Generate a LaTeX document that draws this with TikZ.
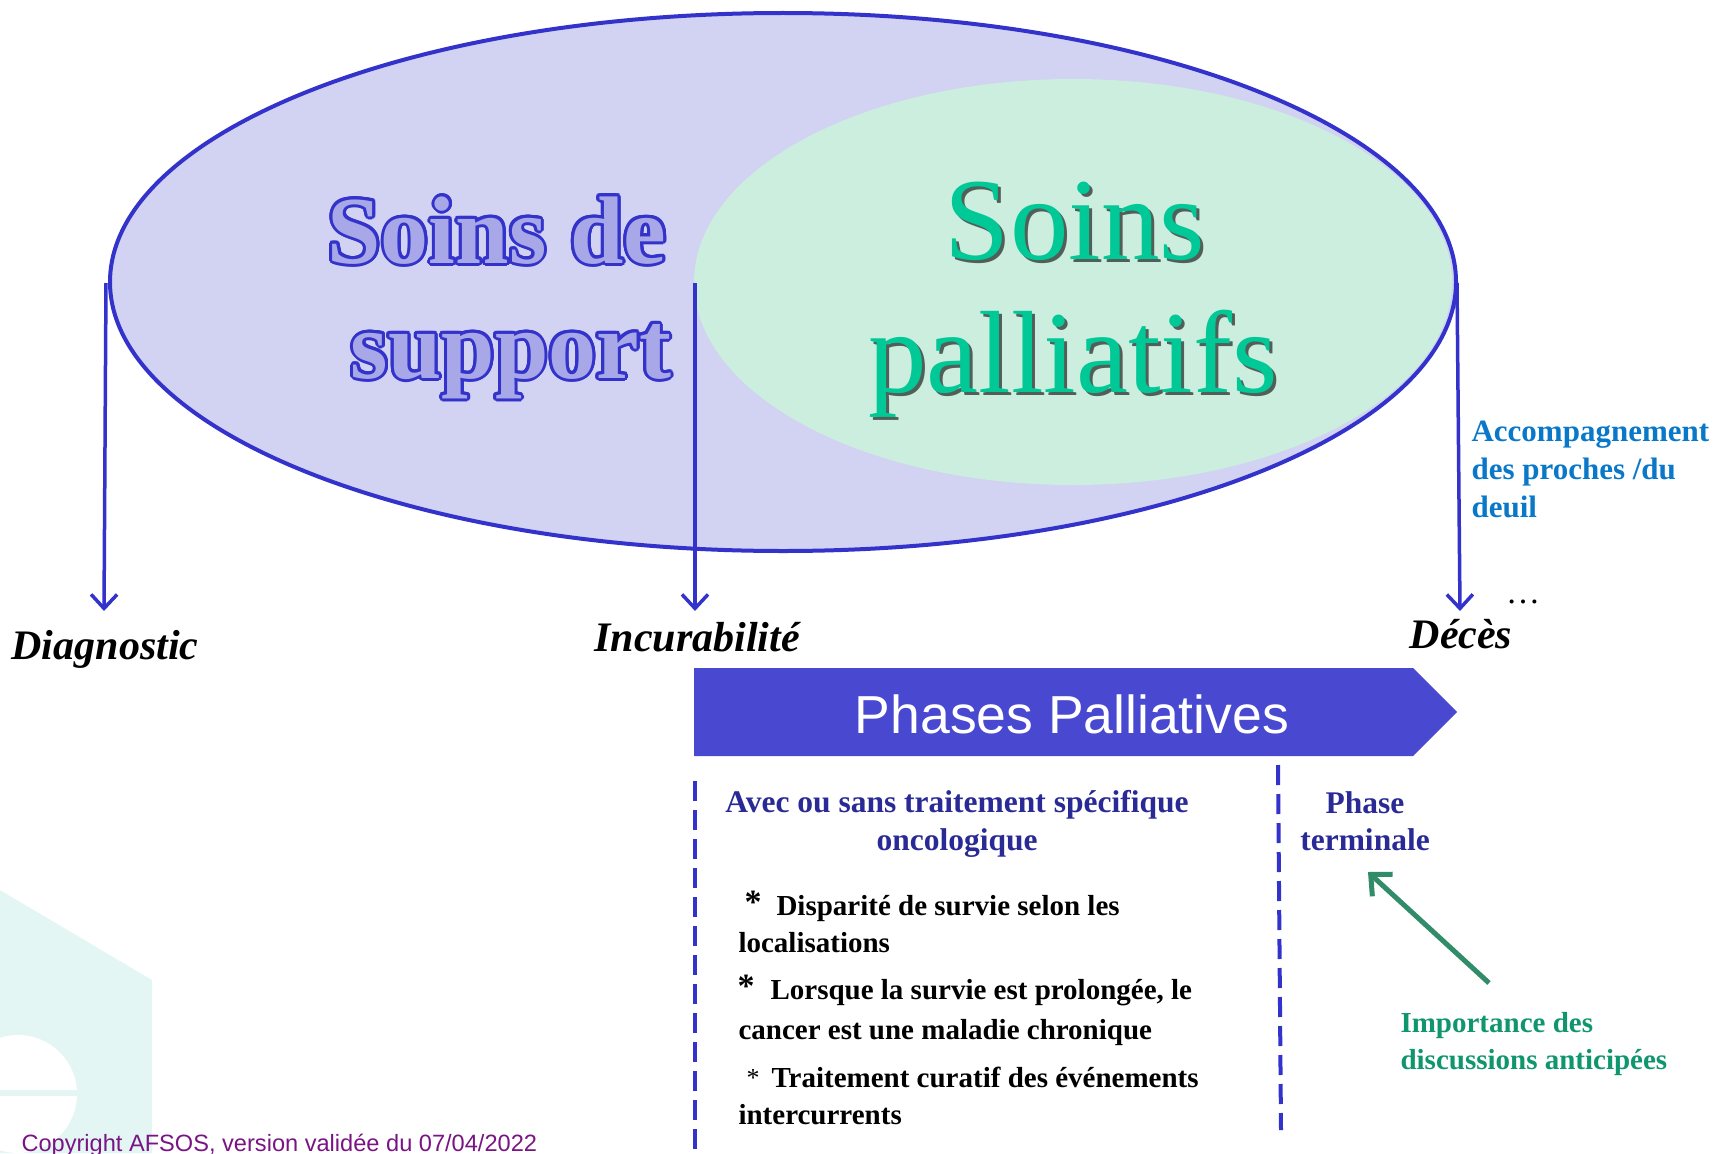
\documentclass[tikz,border=0pt]{standalone}
\usepackage{fontspec}
\setmainfont{Liberation Serif}
\newfontfamily\arialf{Liberation Sans}
\usepackage[copies]{contour}
\contourlength{3pt}
\contournumber{20}
\usetikzlibrary{arrows.meta}
\definecolor{outl}{RGB}{51,51,204}
\definecolor{lav}{RGB}{210,210,242}
\definecolor{mint}{RGB}{204,238,222}
\definecolor{supfill}{RGB}{168,168,232}
\definecolor{palgreen}{RGB}{0,200,150}
\definecolor{phasec}{RGB}{72,72,208}
\definecolor{navy}{RGB}{42,42,150}
\definecolor{accblue}{RGB}{10,120,200}
\definecolor{impgreen}{RGB}{16,150,110}
\definecolor{arrgreen}{RGB}{50,140,105}
\definecolor{copyc}{RGB}{122,20,132}
\definecolor{wm}{RGB}{227,246,244}
\tikzset{
  barrow/.style={draw=outl, line width=3.5pt, -{Straight Barb[length=14pt,width=26pt]}},
  garrow/.style={draw=arrgreen, line width=5pt, -{Straight Barb[length=16pt,width=30pt]}},
  dashline/.style={draw=outl, line width=4pt, dash pattern=on 20pt off 9pt},
  milestone/.style={anchor=base, font=\fontsize{42}{46}\selectfont\bfseries\itshape},
  bigsup/.style={anchor=base, text=supfill, font=\fontsize{96}{100}\selectfont\bfseries},
  bigpal/.style={anchor=base, text=palgreen, font=\fontsize{117}{120}\selectfont},
  palshadow/.style={anchor=base, text=black, opacity=0.6, font=\fontsize{117}{120}\selectfont},
  navytxt/.style={anchor=base, text=navy, font=\fontsize{31.5}{38}\selectfont\bfseries},
  bullettxt/.style={anchor=base west, text=black, font=\fontsize{29}{36}\selectfont\bfseries},
  startxt/.style={text=black, font=\fontsize{34}{36}\selectfont\bfseries},
  acctxt/.style={anchor=base west, text=accblue, font=\fontsize{31}{38}\selectfont\bfseries},
  imptxt/.style={anchor=base west, text=impgreen, font=\fontsize{29}{36}\selectfont\bfseries},
}
\begin{document}
\begin{tikzpicture}[x=1pt,y=-1pt]
\useasboundingbox (0,0) rectangle (1720,1153);
% watermark
\fill[wm] (0,890) -- (152,980) -- (152,1153) -- (0,1153) -- cycle;
\fill[white] (18,1094) circle[radius=59pt];
\fill[wm] (0,1090) rectangle (78,1096);
% ellipses
\fill[lav] (783,282) ellipse[x radius=673pt, y radius=269pt];
\begin{scope}
  \clip (783,282) ellipse[x radius=671pt, y radius=267pt];
  \fill[mint] (1073,282) ellipse[x radius=379pt, y radius=203pt];
\end{scope}
\draw[outl, line width=4pt] (783,282) ellipse[x radius=673pt, y radius=269pt];
% big titles
\node[bigsup] (sup1) at (497,263) {\contour{outl}{Soins de}};
\node[bigsup] (sup2) at (511,378) {\contour{outl}{support}};
\node[palshadow] (pal1s) at (1078,262) {Soins};
\node[bigpal] (pal1) at (1075,259) {Soins};
\node[palshadow] (pal2s) at (1076,395) {palliatifs};
\node[bigpal] (pal2) at (1073,392) {palliatifs};
% milestone arrows
\coordinate (d0) at (106,283); \coordinate (d1) at (104,611);
\coordinate (i0) at (695,283); \coordinate (i1) at (695,611);
\coordinate (e0) at (1457,283); \coordinate (e1) at (1460,611);
\draw[barrow] (d0) -- (d1);
\draw[barrow] (i0) -- (i1);
\draw[barrow] (e0) -- (e1);
\node[milestone] (diag) at (105,659) {Diagnostic};
\node[milestone] (incur) at (697,651) {Incurabilité};
\node[milestone] (deces) at (1461,648) {Décès};
\node[anchor=base, font=\fontsize{34}{36}\selectfont] (dots) at (1523,603) {\dots};
\node[acctxt] (acc1) at (1468,441) {Accompagnement};
\node[acctxt] (acc2) at (1468,479) {des proches /du};
\node[acctxt] (acc3) at (1468,517) {deuil};
% phases banner
\fill[phasec] (694,668) -- (1413,668) -- (1457,712) -- (1413,756) -- (694,756) -- cycle;
\node[text=white, font=\arialf\fontsize{53.5}{58}\selectfont] (phases) at (1072,714) {Phases Palliatives};
% dashed separators
\coordinate (l0) at (695,781); \coordinate (l1) at (695,1153);
\coordinate (r0) at (1278,765); \coordinate (r1) at (1281,1130);
\draw[dashline] (l0) -- (l1);
\draw[dashline] (r0) -- (r1);
% left column
\node[navytxt] (avec1) at (957,812) {Avec ou sans traitement spécifique};
\node[navytxt] (avec2) at (957,850) {oncologique};
\node[startxt] (st1) at (753,902) {*};
\node[bullettxt] (b1) at (773,915) {Disparité de survie selon les};
\node[bullettxt] (b2) at (735,952) {localisations};
\node[startxt] (st2) at (746,986) {*};
\node[bullettxt] (b3) at (767,999) {Lorsque la survie est prolongée, le};
\node[bullettxt] (b4) at (735,1039) {cancer est une maladie chronique};
\node[text=black, font=\fontsize{26}{28}\selectfont] (st3) at (753,1078) {*};
\node[bullettxt] (b5) at (768,1087) {Traitement curatif des événements};
\node[bullettxt] (b6) at (735,1124) {intercurrents};
% right column
\node[navytxt] (term1) at (1365,813) {Phase};
\node[navytxt] (term2) at (1365,850) {terminale};
\coordinate (g0) at (1489,983); \coordinate (g1) at (1368,872);
\draw[garrow] (g0) -- (g1);
\node[imptxt] (imp1) at (1397,1032) {Importance des};
\node[imptxt] (imp2) at (1397,1069) {discussions anticipées};
% copyright
\node[anchor=base west, text=copyc, font=\arialf\fontsize{23.6}{26}\selectfont] (copy) at (18,1151) {Copyright AFSOS, version validée du 07/04/2022};
\end{tikzpicture}
\end{document}
